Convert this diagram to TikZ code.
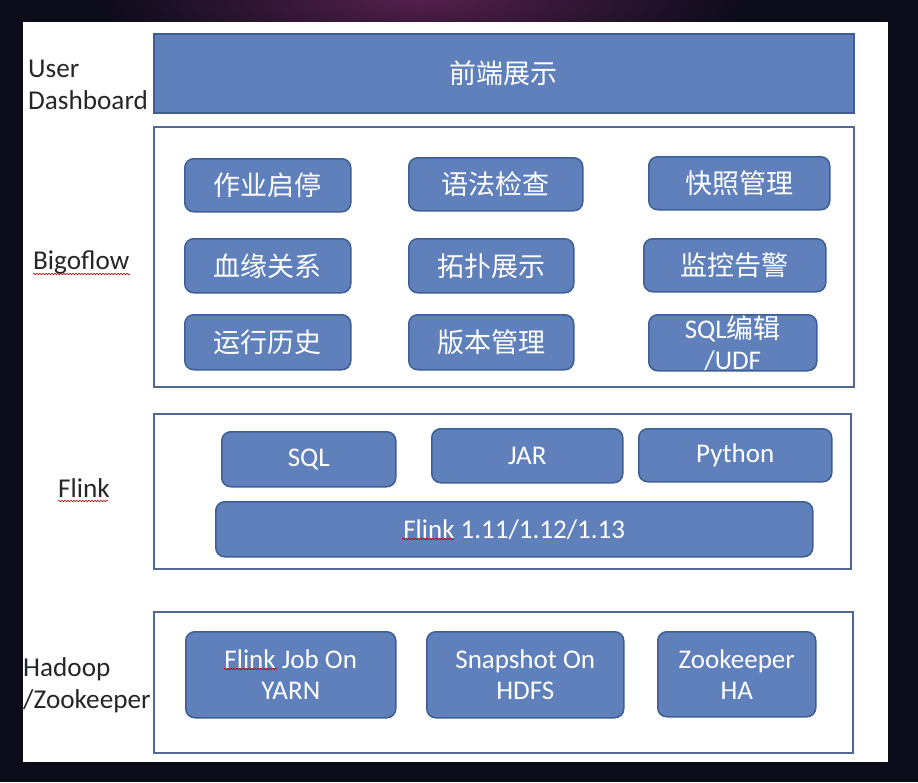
\documentclass[tikz,border=0pt]{standalone}
\usepackage{fontspec}
\setmainfont{Carlito}
\newfontfamily\cjk{Noto Sans CJK SC}
\usetikzlibrary{decorations.pathmorphing}
\definecolor{boxfill}{HTML}{6080BC}
\definecolor{boxline}{HTML}{3E5F93}
\definecolor{frameline}{HTML}{4F6894}
\definecolor{bgdark}{HTML}{0B0B1A}
\definecolor{bgpurple}{HTML}{55204C}
\begin{document}
\begin{tikzpicture}[x=1pt,y=-1pt,
  blk/.style={draw=boxline, line width=1.5pt, fill=boxfill, rounded corners=9pt, text=white, anchor=north west, inner sep=0pt, font=\fontsize{27}{31}\selectfont, align=center},
  frame/.style={draw=frameline, line width=2pt, fill=white, anchor=north west, inner sep=0pt},
  lbl/.style={anchor=west, inner sep=0pt, align=left, font=\fontsize{27.2}{32}\selectfont, text=black!85},
  squig/.style={draw=red!75!black, line width=0.6pt, decorate, decoration={snake, amplitude=0.8pt, segment length=3pt}}
]
\useasboundingbox (0,0) rectangle (918,782);
% background
\fill[bgdark] (0,0) rectangle (918,782);
\shade[inner color=bgpurple, outer color=bgdark] (420,0) ellipse [x radius=330pt, y radius=70pt];
\fill[white] (23,22) rectangle (888,762);

% frames
\node[frame, minimum width=700pt, minimum height=260pt] (fbig) at (153,126) {};
\node[frame, minimum width=697pt, minimum height=155pt] (fflink) at (153,413) {};
\node[frame, minimum width=699pt, minimum height=141pt] (fhad) at (153,611) {};

% top
\node[blk, rounded corners=0pt, minimum width=700pt, minimum height=79pt] (front) at (153,33) {\cjk 前端展示};

% Bigoflow
\node[blk, minimum width=166pt, minimum height=53pt] (b11) at (184,158) {\cjk 作业启停};
\node[blk, minimum width=174pt, minimum height=53pt] (b12) at (408,157) {\cjk 语法检查};
\node[blk, minimum width=181pt, minimum height=53pt] (b13) at (648,156) {\cjk 快照管理};
\node[blk, minimum width=166pt, minimum height=54pt] (b21) at (184,238) {\cjk 血缘关系};
\node[blk, minimum width=165pt, minimum height=54pt] (b22) at (408,238) {\cjk 拓扑展示};
\node[blk, minimum width=182pt, minimum height=53pt] (b23) at (643,238) {\cjk 监控告警};
\node[blk, minimum width=166pt, minimum height=55pt] (b31) at (184,314) {\cjk 运行历史};
\node[blk, minimum width=165pt, minimum height=55pt] (b32) at (408,314) {\cjk 版本管理};
\node[blk, minimum width=168pt, minimum height=56pt] (b33) at (648,314) {SQL{\cjk 编辑}\\/UDF};

% Flink
\node[blk, minimum width=174pt, minimum height=55pt] (sql) at (221,431) {SQL};
\node[blk, minimum width=191pt, minimum height=54pt] (jar) at (431,428) {JAR};
\node[blk, minimum width=193pt, minimum height=53pt] (py) at (638,428) {Python};
\node[blk, minimum width=597pt, minimum height=55pt] (fver) at (215,501) {Flink 1.11/1.12/1.13};

% Hadoop
\node[blk, minimum width=210pt, minimum height=86pt] (h1) at (185,631) {Flink Job On\\YARN};
\node[blk, minimum width=197pt, minimum height=86pt] (h2) at (426,631) {Snapshot On\\HDFS};
\node[blk, minimum width=158pt, minimum height=85pt] (h3) at (657,631) {Zookeeper\\HA};

% labels
\node[lbl] (lu) at (28,85) {User\\Dashboard};
\node[lbl] (lb) at (33,262) {Bigoflow};
\node[lbl] (lf) at (58,488) {Flink};
\node[lbl] (lh) at (23,685) {Hadoop\\/Zookeeper};

% spell-check marks
\draw[squig] (33,274) -- (130,274);
\draw[squig] (58,501) -- (108,501);
\draw[squig] (402,539) -- (454,539);
\draw[squig] (224,669) -- (277,669);
\end{tikzpicture}
\end{document}
